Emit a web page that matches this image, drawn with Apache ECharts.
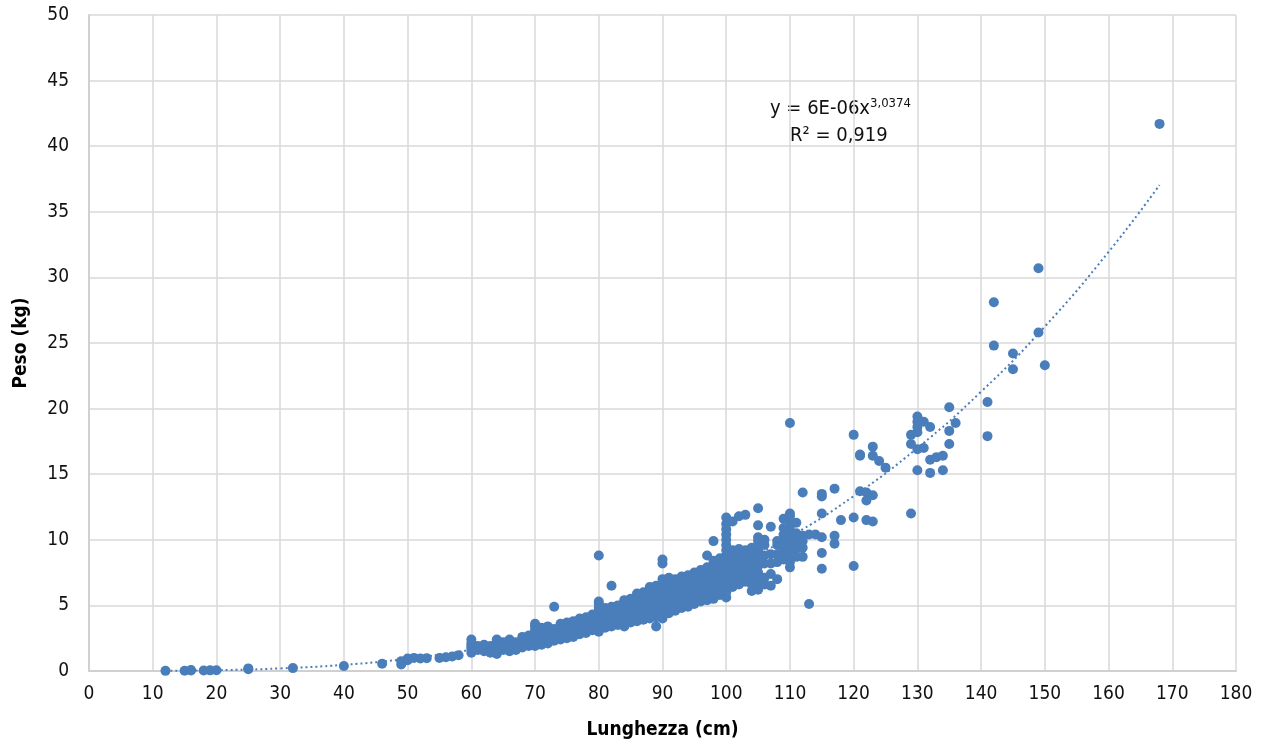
<!DOCTYPE html>
<html>
<head>
<meta charset="utf-8">
<title>Peso vs Lunghezza</title>
<script src="https://cdn.jsdelivr.net/npm/echarts@6/dist/echarts.min.js"></script>
<style>
  html, body { margin: 0; padding: 0; background: #fff; }
  #main { width: 1263px; height: 749px; }
</style>
</head>
<body>
<div id="main"></div>
<script>
// axis ticks
const xTicks = { min: 0, max: 180, step: 10 }
const yTicks = { min: 0, max: 50, step: 5 }

// esemplari piccoli (< 60 cm): [lunghezza, peso]
const puntiPiccoli = [
  [12, 0.01], [15, 0.02], [16, 0.04], [16, 0.08], [18, 0.04], [19, 0.05], [20, 0.06],
  [25, 0.13], [25, 0.2], [32, 0.22], [40, 0.38], [46, 0.55], [49, 0.5], [49, 0.75],
  [50, 0.82], [50, 0.95], [51, 1.0], [52, 0.95], [53, 0.98], [55, 1.0], [56, 1.05],
  [57, 1.1], [58, 1.2]
]

// esemplari centrali: lunghezza -> lista dei pesi
const lunghezzeCentrali = [60, 61, 62, 63, 64, 65, 66, 67, 68, 69, 70, 71, 72, 73, 74, 75, 76, 77, 78, 79,
  80, 81, 82, 83, 84, 85, 86, 87, 88, 89, 90, 91, 92, 93, 94, 95, 96, 97, 98, 99,
  100, 101, 102, 103, 104, 105, 106, 107, 108, 109, 110, 111, 112, 113, 114, 115, 117, 118]
const pesiCentrali = [
  [1.4, 1.7, 1.9, 2.1, 2.4],
  [1.6, 1.9],
  [1.5, 1.8, 2.0],
  [1.4, 1.7, 1.9],
  [1.3, 1.7, 2.0, 2.3, 2.4],
  [1.6, 1.9, 2.2],
  [1.5, 1.8, 2.2, 2.4],
  [1.6, 1.9, 2.2],
  [1.8, 2.1, 2.4, 2.6],
  [1.9, 2.2, 2.5, 2.7],
  [1.9, 2.2, 2.5, 2.8, 3.1, 3.4, 3.6],
  [2.0, 2.4, 2.7, 3.0, 3.3],
  [2.1, 2.5, 2.8, 3.1, 3.4],
  [2.3, 2.6, 2.9, 3.2, 4.9],
  [2.4, 2.7, 3.0, 3.3, 3.6],
  [2.5, 2.8, 3.1, 3.4, 3.7],
  [2.6, 2.9, 3.2, 3.5, 3.8],
  [2.8, 3.1, 3.4, 3.7, 4.0],
  [2.9, 3.2, 3.5, 3.8, 4.1],
  [3.1, 3.4, 3.7, 4.0, 4.3],
  [3.0, 3.3, 3.6, 3.9, 4.2, 4.5, 4.8, 5.1, 5.3, 8.8],
  [3.3, 3.6, 3.9, 4.2, 4.5, 4.8],
  [3.4, 3.7, 4.0, 4.3, 4.6, 4.9, 6.5],
  [3.5, 3.8, 4.1, 4.4, 4.7, 5.0],
  [3.4, 3.7, 4.0, 4.3, 4.6, 4.9, 5.2, 5.4],
  [3.7, 4.0, 4.3, 4.6, 4.9, 5.2, 5.5],
  [3.8, 4.1, 4.4, 4.7, 5.0, 5.3, 5.6, 5.9],
  [3.9, 4.2, 4.5, 4.8, 5.1, 5.4, 5.7, 6.0],
  [4.0, 4.3, 4.6, 4.9, 5.2, 5.5, 5.8, 6.1, 6.4],
  [3.4, 4.1, 4.4, 4.7, 5.0, 5.3, 5.6, 5.9, 6.2, 6.5],
  [4.0, 4.3, 4.6, 4.9, 5.2, 5.5, 5.8, 6.1, 6.4, 6.7, 7.0, 8.2, 8.5],
  [4.4, 4.7, 5.0, 5.3, 5.6, 5.9, 6.2, 6.5, 6.8, 7.1],
  [4.6, 4.9, 5.2, 5.5, 5.8, 6.1, 6.4, 6.7, 7.0],
  [4.8, 5.1, 5.4, 5.7, 6.0, 6.3, 6.6, 6.9, 7.2],
  [4.9, 5.2, 5.5, 5.8, 6.1, 6.4, 6.7, 7.0, 7.3],
  [5.1, 5.4, 5.7, 6.0, 6.3, 6.6, 6.9, 7.2, 7.5],
  [5.3, 5.6, 5.9, 6.2, 6.5, 6.8, 7.1, 7.4, 7.7],
  [5.4, 5.8, 6.1, 6.4, 6.7, 7.0, 7.3, 7.6, 7.9, 8.8],
  [5.5, 5.9, 6.3, 6.6, 6.9, 7.2, 7.5, 7.8, 8.1, 8.4, 9.9],
  [5.8, 6.2, 6.6, 7.0, 7.3, 7.6, 7.9, 8.2, 8.6],
  [5.6, 6.0, 6.4, 6.8, 7.2, 7.6, 8.0, 8.4, 8.8, 9.2, 9.6, 10.0, 10.4, 10.8, 11.2, 11.7],
  [6.4, 6.8, 7.2, 7.6, 8.0, 8.4, 8.8, 9.2, 11.4],
  [6.6, 7.0, 7.4, 7.8, 8.2, 8.6, 9.0, 9.3, 11.8],
  [6.8, 7.3, 7.8, 8.3, 8.8, 9.2, 11.9],
  [6.1, 6.6, 7.2, 7.8, 8.4, 9.0, 9.4],
  [6.2, 6.8, 7.5, 8.0, 8.6, 9.2, 9.9, 10.2, 11.1, 12.4],
  [6.6, 7.1, 8.2, 8.8, 9.6, 10.0],
  [6.5, 7.4, 8.2, 8.9, 11.0],
  [7.0, 8.3, 8.9, 9.6, 9.9],
  [8.5, 9.2, 9.9, 10.4, 10.9, 11.6],
  [7.9, 8.3, 8.8, 9.5, 9.9, 10.5, 11.0, 11.4, 11.8, 12.0, 18.9],
  [8.7, 9.3, 9.9, 10.5, 11.3],
  [8.7, 9.4, 9.9, 10.3, 13.6],
  [5.1, 10.4],
  [10.4],
  [7.8, 9.0, 10.2, 12.0, 13.3, 13.5],
  [9.7, 10.3, 13.9],
  [11.5]
]

// esemplari grandi (>= 120 cm)
const puntiGrandi = [
  [120, 8.0], [120, 11.7], [120, 18.0], [121, 13.7], [121, 16.4], [121, 16.5],
  [122, 11.5], [122, 13.0], [122, 13.6], [123, 11.4], [123, 13.4], [123, 16.4], [123, 17.1],
  [124, 16.0], [125, 15.5], [129, 12.0], [129, 17.3], [129, 18.0],
  [130, 15.3], [130, 16.9], [130, 18.2], [130, 18.6], [130, 19.0], [130, 19.4],
  [131, 17.0], [131, 19.0], [132, 15.1], [132, 16.1], [132, 18.6], [133, 16.3],
  [134, 15.3], [134, 16.4], [135, 17.3], [135, 18.3], [135, 20.1], [136, 18.9],
  [141, 17.9], [141, 20.5], [142, 24.8], [142, 28.1], [145, 23.0], [145, 24.2],
  [149, 25.8], [149, 30.7], [150, 23.3], [168, 41.7]
]

// linea di tendenza (potenza): y = a * x^b
const trendA = 6.45e-6
const trendB = 3.0374
const trendX = [12, 20, 30, 40, 50, 60, 70, 80, 90, 100, 110, 120, 130, 140, 150, 160, 168]

const punti = puntiPiccoli.slice()
lunghezzeCentrali.forEach((l, i) => {
  pesiCentrali[i].forEach(p => punti.push([l, p]))
})
puntiGrandi.forEach(p => punti.push(p))

const trendData = trendX.map(x => [x, trendA * Math.pow(x, trendB)])

const font = "'Liberation Sans Narrow', 'Arial Narrow', 'DejaVu Sans Condensed', sans-serif"
const blue = '#4a7ebb'

const myChart = echarts.init(document.getElementById('main'))
const option = {
  animation: false,
  grid: {
    left: 89,
    right: 27,
    top: 15,
    bottom: 78
  },
  xAxis: {
    type: 'value',
    min: xTicks.min,
    max: xTicks.max,
    interval: xTicks.step,
    name: 'Lunghezza (cm)',
    nameLocation: 'middle',
    nameGap: 50,
    nameTextStyle: { fontFamily: font, fontSize: 19, fontWeight: 'bold', color: '#000' },
    axisLine: { show: true, lineStyle: { color: '#d0d0d0', width: 2 } },
    axisTick: { show: false },
    axisLabel: { fontFamily: font, fontSize: 19, color: '#111', margin: 14 },
    splitLine: { show: true, lineStyle: { color: '#d9d9d9', width: 1.5 } }
  },
  yAxis: {
    type: 'value',
    min: yTicks.min,
    max: yTicks.max,
    interval: yTicks.step,
    name: 'Peso (kg)',
    nameLocation: 'middle',
    nameGap: 58,
    nameTextStyle: { fontFamily: font, fontSize: 19, fontWeight: 'bold', color: '#000' },
    axisLine: { show: true, lineStyle: { color: '#d0d0d0', width: 2 } },
    axisTick: { show: false },
    axisLabel: { fontFamily: font, fontSize: 19, color: '#111', margin: 20 },
    splitLine: { show: true, lineStyle: { color: '#d9d9d9', width: 1.5 } }
  },
  graphic: [
    {
      type: 'text',
      left: 770,
      top: 97,
      style: {
        text: '{a|y = 6E-06x}{s|3,0374}',
        rich: {
          a: { fontFamily: font, fontSize: 20, fill: '#111' },
          s: { fontFamily: font, fontSize: 13, fill: '#111', verticalAlign: 'top', padding: [0, 0, 10, 0] }
        }
      }
    },
    {
      type: 'text',
      left: 790,
      top: 126,
      style: { text: 'R² = 0,919', fontFamily: font, fontSize: 20, fill: '#111' }
    }
  ],
  series: [
    {
      name: 'tendenza',
      type: 'line',
      data: trendData,
      smooth: true,
      showSymbol: false,
      z: 1,
      lineStyle: { color: blue, width: 2, type: [2, 3] }
    },
    {
      name: 'peso',
      type: 'scatter',
      data: punti,
      symbolSize: 10,
      z: 2,
      itemStyle: { color: blue, opacity: 1 }
    }
  ]
}
myChart.setOption(option)
</script>
</body>
</html>
